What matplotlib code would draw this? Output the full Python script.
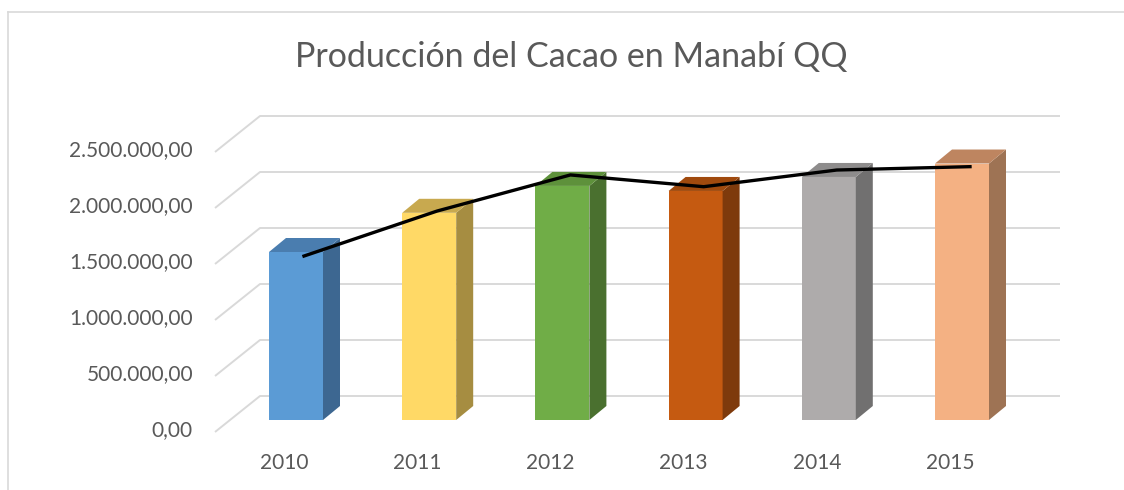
import matplotlib
matplotlib.use('Agg')
import matplotlib.pyplot as plt
from matplotlib.patches import Polygon
from matplotlib.lines import Line2D
import numpy as np

# ---- data ----
years = ['2010', '2011', '2012', '2013', '2014', '2015']
production = [1500000, 1850000, 2090000, 2045000, 2170000, 2290000]
trend_line = [1464000, 1866000, 2188000, 2083000, 2232000, 2262000]
tick_values = [0, 500000, 1000000, 1500000, 2000000, 2500000]
tick_labels = ['0,00', '500.000,00', '1.000.000,00', '1.500.000,00',
               '2.000.000,00', '2.500.000,00']
title = 'Producción del Cacao en Manabí QQ'

front_colors = ['#5B9BD5', '#FFD966', '#70AD47', '#C55A11', '#AEABAB', '#F4B183']
side_colors = ['#3D6791', '#A68D41', '#4A702F', '#7E3A0C', '#717070', '#9E7354']
top_colors = ['#4A7DAF', '#C8A94F', '#5E913B', '#A04A0E', '#8E8C8C', '#BE8560']

# ---- figure / scale set-up (oblique 3D emulation) ----
W, H = 1124, 490
fig = plt.figure(figsize=(W / 100, H / 100), dpi=100)
ax = fig.add_axes([0, 0, 1, 1])
X0, XS = 296.0, 133.2      # pixel x of first category, pixels per category
Y0, YS = 420.0, 112e-6     # pixel y of zero (bar front plane), pixels per unit
ax.set_xlim((0 - X0) / XS, (W - X0) / XS)
ax.set_ylim((Y0 - H) / YS, Y0 / YS)
ax.axis('off')


def dx(px):
    return px / XS


def dy(px):
    return px / YS


grid_c = '#D9D9D9'
text_c = '#595959'
font = ['Lato', 'DejaVu Sans']

# back-wall gridlines with oblique side-wall segment
for g, lab in zip(tick_values, tick_labels):
    ax.plot([dx(215 - X0), dx(260 - X0), dx(1060 - X0)],
            [g - dy(12), g + dy(24), g + dy(24)],
            color=grid_c, lw=1.4, zorder=1, solid_capstyle='butt')
    ax.text(dx(193 - X0), g - dy(10), lab, ha='right', va='center',
            fontsize=15, color=text_c, family=font)

# bars
bw = dx(54)
ddx, ddy = dx(17), dy(14)
xs = np.arange(len(years))
ax.bar(xs, production, width=bw, color=front_colors, zorder=3, linewidth=0)
for i, v in enumerate(production):
    l, r = xs[i] - bw / 2, xs[i] + bw / 2
    side = Polygon([(r, 0), (r + ddx, ddy), (r + ddx, v + ddy), (r, v)],
                   closed=True, facecolor=side_colors[i], edgecolor='none', zorder=3)
    top = Polygon([(l, v), (r, v), (r + ddx, v + ddy), (l + ddx, v + ddy)],
                  closed=True, facecolor=top_colors[i], edgecolor='none', zorder=3)
    ax.add_patch(side)
    ax.add_patch(top)
    ax.text(xs[i] - dx(12), -dy(42.5), years[i], ha='center', va='center',
            fontsize=15, color=text_c, family=font)

# line over the bars
ax.plot(xs + dx(8), trend_line, color='black', lw=2.4, zorder=5)

# title
ax.text(dx(571 - X0), dy(Y0 - 57), title, ha='center', va='center',
        fontsize=24.5, color=text_c, family=font)

# chart frame (left and top edges)
fig.add_artist(Line2D([8 / W, 8 / W], [0, 1 - 12 / H], transform=fig.transFigure,
                      color=grid_c, lw=1.2))
fig.add_artist(Line2D([8 / W, 1], [1 - 12 / H, 1 - 12 / H], transform=fig.transFigure,
                      color=grid_c, lw=1.2))

fig.savefig('out.png', dpi=100, facecolor='white')
